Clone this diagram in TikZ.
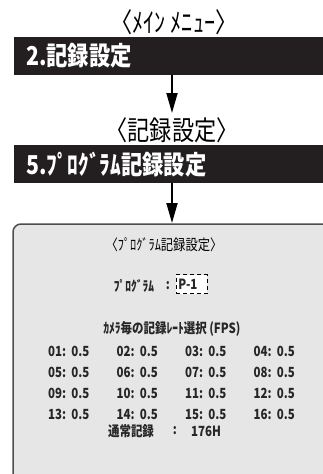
\documentclass[tikz,border=0pt]{standalone}
\usepackage{fontspec}
\newfontfamily\jfont[FakeStretch=0.82]{Noto Sans CJK JP}
\usetikzlibrary{arrows.meta}
\definecolor{barblack}{HTML}{231F20}
\definecolor{panelgray}{HTML}{E6E6E6}
\definecolor{panelline}{HTML}{4D4D4D}
\tikzset{
  menubar/.style={fill=barblack, text=white, anchor=north west, minimum height=38pt,
    inner xsep=12pt, inner ysep=0pt, text width=285pt, align=left,
    font=\jfont\bfseries\fontsize{26}{26}\selectfont},
  menutitle/.style={font=\jfont\fontsize{27}{27}\selectfont, inner sep=0pt},
  flow/.style={line width=1.8pt, -{Triangle[width=11pt,length=20pt]}},
  screentext/.style={font=\jfont\bfseries\fontsize{14}{14}\selectfont, text=black!85, inner sep=0pt},
  screenhead/.style={font=\jfont\fontsize{15}{15}\selectfont, inner sep=0pt},
}
\begin{document}
\begin{tikzpicture}[x=1pt,y=-1pt]
  \useasboundingbox (0,0) rectangle (323,474);
  % menu steps
  \node[menutitle] (maintitle) at (174,22) {〈ﾒｲﾝ ﾒﾆｭｰ〉};
  \node[menubar] (mainbar) at (14,37) {2.記録設定};
  \node[menutitle] (rectitle) at (172,130) {〈記録設定〉};
  \node[menubar] (progbar) at (14,145) {5.ﾌﾟﾛｸﾞﾗﾑ記録設定};
  % screen panel
  \draw[panelline, fill=panelgray, line width=1.5pt, rounded corners=8pt] (13,224) rectangle (345,495);
  \coordinate (rectip) at (172,113);
  \coordinate (paneltop) at (172,223);
  \draw[flow] (mainbar.south -| rectip) -- (rectip);
  \draw[flow] (progbar.south -| paneltop) -- (paneltop);
  % screen contents
  \node[screenhead] (screentitle) at (164,245) {〈ﾌﾟﾛｸﾞﾗﾑ記録設定〉};
  \node[screentext] (proglabel) at (134,286) {ﾌﾟﾛｸﾞﾗﾑ};
  \node[screentext] (progcolon) at (168,286) {:};
  \node[screentext, draw=black, line width=0.9pt, dash pattern=on 4pt off 3pt, fill=white,
    anchor=west, minimum height=19pt, inner xsep=2pt, text width=27pt, align=left] (progno) at (176,284) {P-1};
  \node[screentext] (fpshead) at (172,329) {ｶﾒﾗ毎の記録ﾚｰﾄ選択 (FPS)};
  \foreach \r in {0,...,3}
    \foreach \c in {0,...,3} {
      \pgfmathtruncatemacro\cam{4*\r+\c+1}
      \node[screentext, anchor=west] (cam\cam) at (48+68.5*\c, 351+21*\r) {\ifnum\cam<10 0\fi\cam:\ \ 0.5};
    }
  \node[screentext] (normlabel) at (131,431) {通常記録};
  \node[screentext] (normcolon) at (175,431) {:};
  \node[screentext] (normhours) at (206,431) {176H};
\end{tikzpicture}
\end{document}
